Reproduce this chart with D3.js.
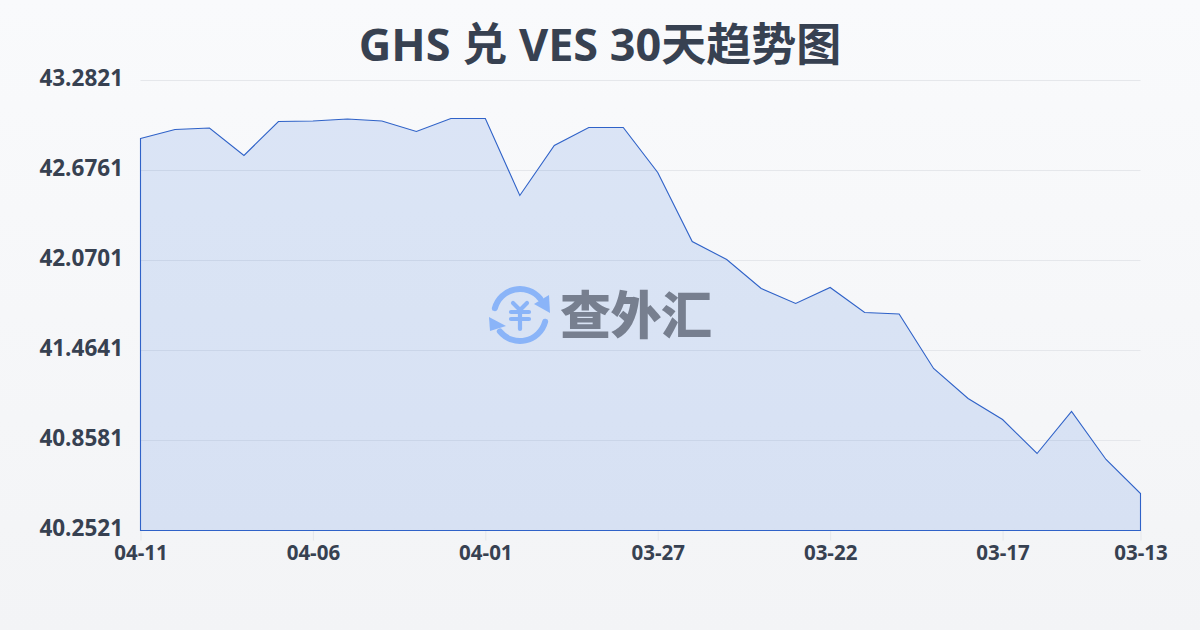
<!DOCTYPE html>
<html><head><meta charset="utf-8">
<script src="https://cdnjs.cloudflare.com/ajax/libs/d3/7.8.5/d3.min.js"></script>
<style>html,body{margin:0;padding:0;background:#f6f7f9}svg{display:block}
text{font-family:"Open Sans","Noto Sans CJK SC",sans-serif}</style>
</head><body><div id="c"></div>
<script>
const titleText = "GHS 兑 VES 30天趋势图";
const logoText = "查外汇";
const dates = ["04-11","04-10","04-09","04-08","04-07","04-06","04-05","04-04","04-03","04-02","04-01","03-31","03-30","03-29","03-28","03-27","03-26","03-25","03-24","03-23","03-22","03-21","03-20","03-19","03-18","03-17","03-16","03-15","03-14","03-13"];
const values = [42.8916,42.9522,42.9623,42.7771,43.0060,43.0094,43.0229,43.0094,42.9387,43.0262,43.0262,42.5078,42.8444,42.9656,42.9656,42.6626,42.1980,42.0768,41.8816,41.7806,41.8883,41.7200,41.7099,41.3429,41.1409,40.9995,40.7706,41.0534,40.7302,40.5012];
const yTicks = [40.2521,40.8581,41.4641,42.0701,42.6761,43.2821];
const xTickLabels = ["04-11","04-06","04-01","03-27","03-22","03-17","03-13"];

const W=1200,H=630;
const svg=d3.select("#c").append("svg").attr("width",W).attr("height",H);
const defs=svg.append("defs");
const bg=defs.append("linearGradient").attr("id","bg").attr("x1",0).attr("y1",0).attr("x2",0).attr("y2",1);
bg.append("stop").attr("offset",0).attr("stop-color","#f9fafc");
bg.append("stop").attr("offset",1).attr("stop-color","#f3f4f6");
svg.append("rect").attr("width",W).attr("height",H).attr("fill","url(#bg)");

const x=d3.scalePoint().domain(dates).range([140.5,1140.5]);
const y=d3.scaleLinear().domain([40.2521,43.2821]).range([530.5,80.5]);

svg.append("text").attr("x",600).attr("y",61).attr("text-anchor","middle")
  .attr("font-size",45).attr("font-weight",700).attr("fill","#374151").text(titleText);

const gy=svg.append("g").attr("transform","translate(140,0)")
  .call(d3.axisLeft(y).tickValues(yTicks).tickFormat(d3.format(".4f")).tickSize(0).tickPadding(17));
gy.select(".domain").remove();
gy.selectAll("text").attr("font-size",22.5).attr("font-weight",700).attr("fill","#374151")
  .attr("font-family",'"Open Sans",sans-serif').attr("dy",null).attr("y",-1).attr("dominant-baseline","middle");
svg.append("g").selectAll("line").data(yTicks).join("line")
  .attr("x1",140.5).attr("x2",1140.5).attr("y1",d=>y(d)).attr("y2",d=>y(d))
  .attr("stroke","#e5e7eb").attr("stroke-width",1);

const tickDates=[dates[0],dates[5],dates[10],dates[15],dates[20],dates[25],dates[29]];
const gx=svg.append("g").attr("transform","translate(0,530.5)")
  .call(d3.axisBottom(x).tickValues(tickDates).tickFormat((d,i)=>xTickLabels[i]).tickSize(10).tickPadding(5));
gx.select(".domain").remove();
gx.selectAll("line").attr("stroke","#e5e7eb");
gx.selectAll("text").attr("font-size",20.5).attr("font-weight",700).attr("fill","#374151")
  .attr("font-family",'"Open Sans",sans-serif');

const area=d3.area().x((d,i)=>x(dates[i])).y0(y(40.2521)).y1(d=>y(d));
svg.append("path").datum(values).attr("d",area)
  .attr("fill","#1f5fdc").attr("fill-opacity",0.135)
  .attr("stroke","#2f62c8").attr("stroke-width",1.1);

// watermark
const lg=svg.append("g").attr("transform","translate(520,315)");
const blue="#8ab4f8";
const arc=d3.arc().innerRadius(23).outerRadius(29).cornerRadius(2.9);
lg.append("path").attr("d",arc({startAngle:-1.42,endAngle:1.0})).attr("fill",blue);
lg.append("path").attr("d",arc({startAngle:1.72,endAngle:4.14})).attr("fill",blue);
lg.append("path").attr("d","M14 -11 L29 -20 L30 -2Z").attr("fill",blue);
lg.append("path").attr("d","M-14 11 L-30 16 L-31 2Z").attr("fill",blue);
lg.append("path").attr("d","M-7 -12 L0 -5 L7 -12 M-9 -3 H9 M-9 4 H9 M0 -5 V14")
  .attr("fill","none").attr("stroke",blue).attr("stroke-width",4.2).attr("stroke-linecap","round").attr("stroke-linejoin","round");
svg.append("text").attr("x",560).attr("y",334).attr("font-size",51).attr("font-weight",900)
  .attr("textLength",152).attr("fill","#777f8f").attr("font-family",'"Noto Sans CJK SC",sans-serif').text(logoText);
</script></body></html>
